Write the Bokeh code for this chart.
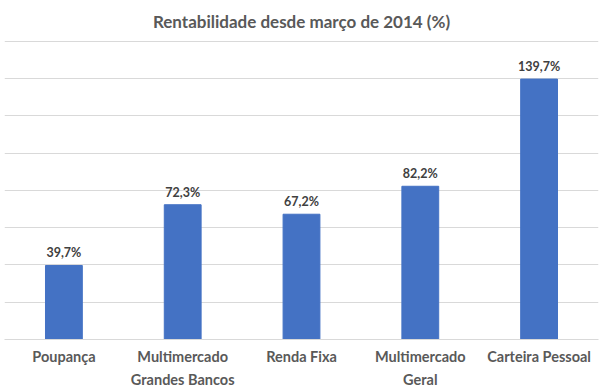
from bokeh.plotting import figure
from bokeh.models import ColumnDataSource, FixedTicker, Range1d, FactorRange
from bokeh.core.properties import value
from bokeh.embed import file_html
from bokeh.resources import INLINE

categories = ["Poupança", "Multimercado\nGrandes Bancos", "Renda Fixa", "Multimercado\nGeral", "Carteira Pessoal"]
values = [39.7, 72.3, 67.2, 82.2, 139.7]
labels = [f"{v:.1f}%".replace(".", ",") for v in values]
y_ticks = [0, 20, 40, 60, 80, 100, 120, 140, 160]

FONT = "Lato"
src = ColumnDataSource(dict(cat=categories, val=values, lab=labels))

p = figure(x_range=FactorRange(*categories), y_range=Range1d(0, 160.4),
           width=603, height=392, output_backend="svg", toolbar_location=None,
           min_border_left=4, min_border_right=5, min_border_top=38, min_border_bottom=53)

p.title.text = "Rentabilidade desde março de 2014 (%)"
p.title.align = "center"
p.title.text_font = FONT
p.title.text_font_size = "17px"
p.title.text_font_style = "bold"
p.title.text_color = "#595959"
p.title.standoff = 17

p.vbar(x="cat", top="val", width=0.31, source=src, color="#4472C4")
p.text(x="cat", y="val", text="lab", source=src, text_align="center", text_baseline="bottom",
       y_offset=-5, text_font=value(FONT), text_font_size="12.5px", text_font_style="bold",
       text_color="#404040")

p.yaxis.visible = False
p.ygrid.ticker = FixedTicker(ticks=y_ticks)
p.ygrid.grid_line_color = "#D9D9D9"
p.xgrid.grid_line_color = None
p.outline_line_color = None

p.xaxis.axis_line_color = "#D9D9D9"
p.xaxis.major_tick_line_color = None
p.xaxis.minor_tick_line_color = None
p.xaxis.major_label_text_font = FONT
p.xaxis.major_label_text_font_size = "14.5px"
p.xaxis.major_label_text_font_style = "bold"
p.xaxis.major_label_text_color = "#595959"
p.xaxis.major_label_text_line_height = 1.4
p.xaxis.major_label_standoff = 2

open("out.html", "w").write(file_html(p, INLINE))
